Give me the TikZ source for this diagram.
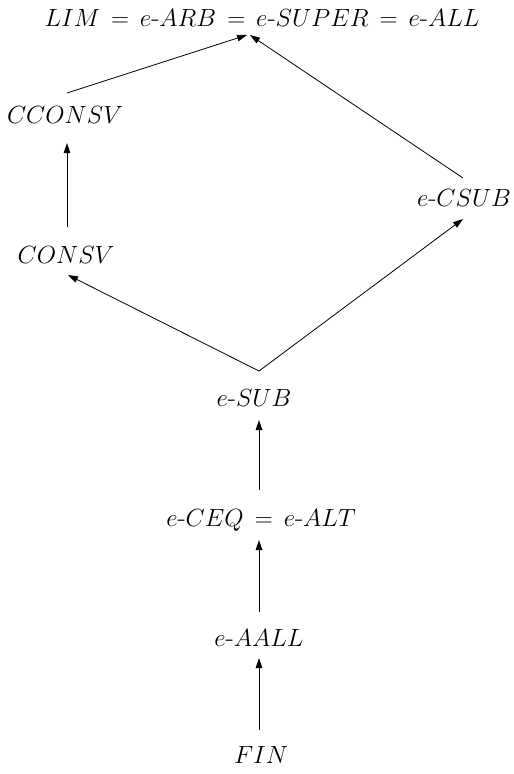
\documentclass[tikz,border=0pt]{standalone}
\usetikzlibrary{arrows.meta,calc}
\begin{document}
\begin{tikzpicture}[x=1pt,y=-1pt,
  lbl/.style={inner sep=0pt,font=\fontsize{27}{32}\selectfont},
  arr/.style={line width=0.8pt,-{Triangle[length=10pt,width=6.5pt]}}]
\useasboundingbox (0,0) rectangle (514,774);
\node[lbl] (lim) at (262,18) {$LIM \,=\, e\hbox{-}ARB \,=\, e\hbox{-}SUPER \,=\, e\hbox{-}ALL$};
\node[lbl] (cconsv) at (65,115) {$CCONSV$};
\node[lbl] (consv) at (66,255) {$CONSV$};
\node[lbl] (csub) at (464,198) {$e\hbox{-}CSUB$};
\node[lbl] (sub) at (254,398) {$e\hbox{-}SUB$};
\node[lbl] (ceq) at (261,520) {$e\hbox{-}CEQ \,=\, e\hbox{-}ALT$};
\node[lbl] (aall) at (259,638) {$e\hbox{-}AALL$};
\node[lbl] (fin) at (261,755) {$FIN$};
\draw[arr] ($(cconsv)+(2,-22)$) -- ($(lim)+(-15,17)$);
\draw[arr] ($(csub)+(-1,-20)$) -- ($(lim)+(-12,17)$);
\draw[arr] ($(consv)+(1,-28)$) -- ($(cconsv)+(2,28)$);
\draw[arr] ($(sub)+(5,-27)$) -- ($(consv)+(2,20)$);
\draw[arr] ($(sub)+(5,-27)$) -- ($(csub)+(-1,21)$);
\draw[arr] ($(ceq)+(-2,-30)$) -- ($(sub)+(5,22)$);
\draw[arr] ($(aall)+(0,-26)$) -- ($(ceq)+(-2,20)$);
\draw[arr] ($(fin)+(-2,-25)$) -- ($(aall)+(0,20)$);
\end{tikzpicture}
\end{document}
